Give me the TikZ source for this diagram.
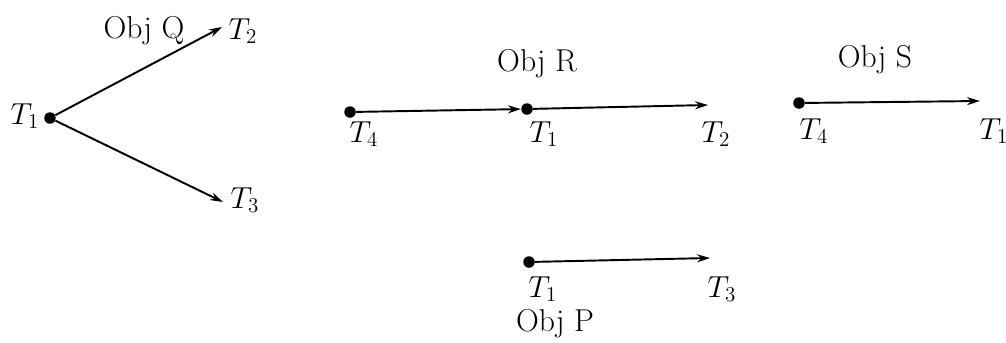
\documentclass[tikz,border=0pt]{standalone}
\usetikzlibrary{arrows.meta}
\begin{document}
\begin{tikzpicture}[
x=0.02cm,y=-0.02cm,
every node/.style={font=\fontsize{18}{21}\selectfont,inner sep=0pt},
dot/.style={circle,fill,minimum size=2.3mm},
arr/.style={line width=1.1pt,-{Stealth[length=2.6mm,width=1.6mm]}}
]
\useasboundingbox (0,0) rectangle (1006,342);
% Obj Q
\node[dot] (q1) at (50,118) {};
\coordinate (q2) at (222,27);
\coordinate (q3) at (223,202);
\node (q1t) at (25,116) {$T_1$};
\node (q2t) at (243,31) {$T_2$};
\node (q3t) at (245,200) {$T_3$};
\node (qn) at (144,31) {Obj Q};
\draw[arr] (q1) -- (q2);
\draw[arr] (q1) -- (q3);
% Obj R
\node[dot] (r4) at (350,112) {};
\node[dot] (r1) at (527,109) {};
\coordinate (r2) at (708,105);
\node (r4t) at (364,134) {$T_4$};
\node (r1t) at (544,134) {$T_1$};
\node (r2t) at (716,134) {$T_2$};
\node (rn) at (537,64) {Obj R};
\draw[arr] (r4) -- (r1);
\draw[arr] (r1) -- (r2);
% Obj S
\node[dot] (s4) at (799,103) {};
\coordinate (s1) at (980,101);
\node (s4t) at (814,131) {$T_4$};
\node (s1t) at (994,131) {$T_1$};
\node (sn) at (875,60) {Obj S};
\draw[arr] (s4) -- (s1);
% Obj P
\node[dot] (p1) at (529,262) {};
\coordinate (p3) at (710,258);
\node (p1t) at (543,289) {$T_1$};
\node (p3t) at (722,289) {$T_3$};
\node (pn) at (555,324) {Obj P};
\draw[arr] (p1) -- (p3);
\end{tikzpicture}
\end{document}
